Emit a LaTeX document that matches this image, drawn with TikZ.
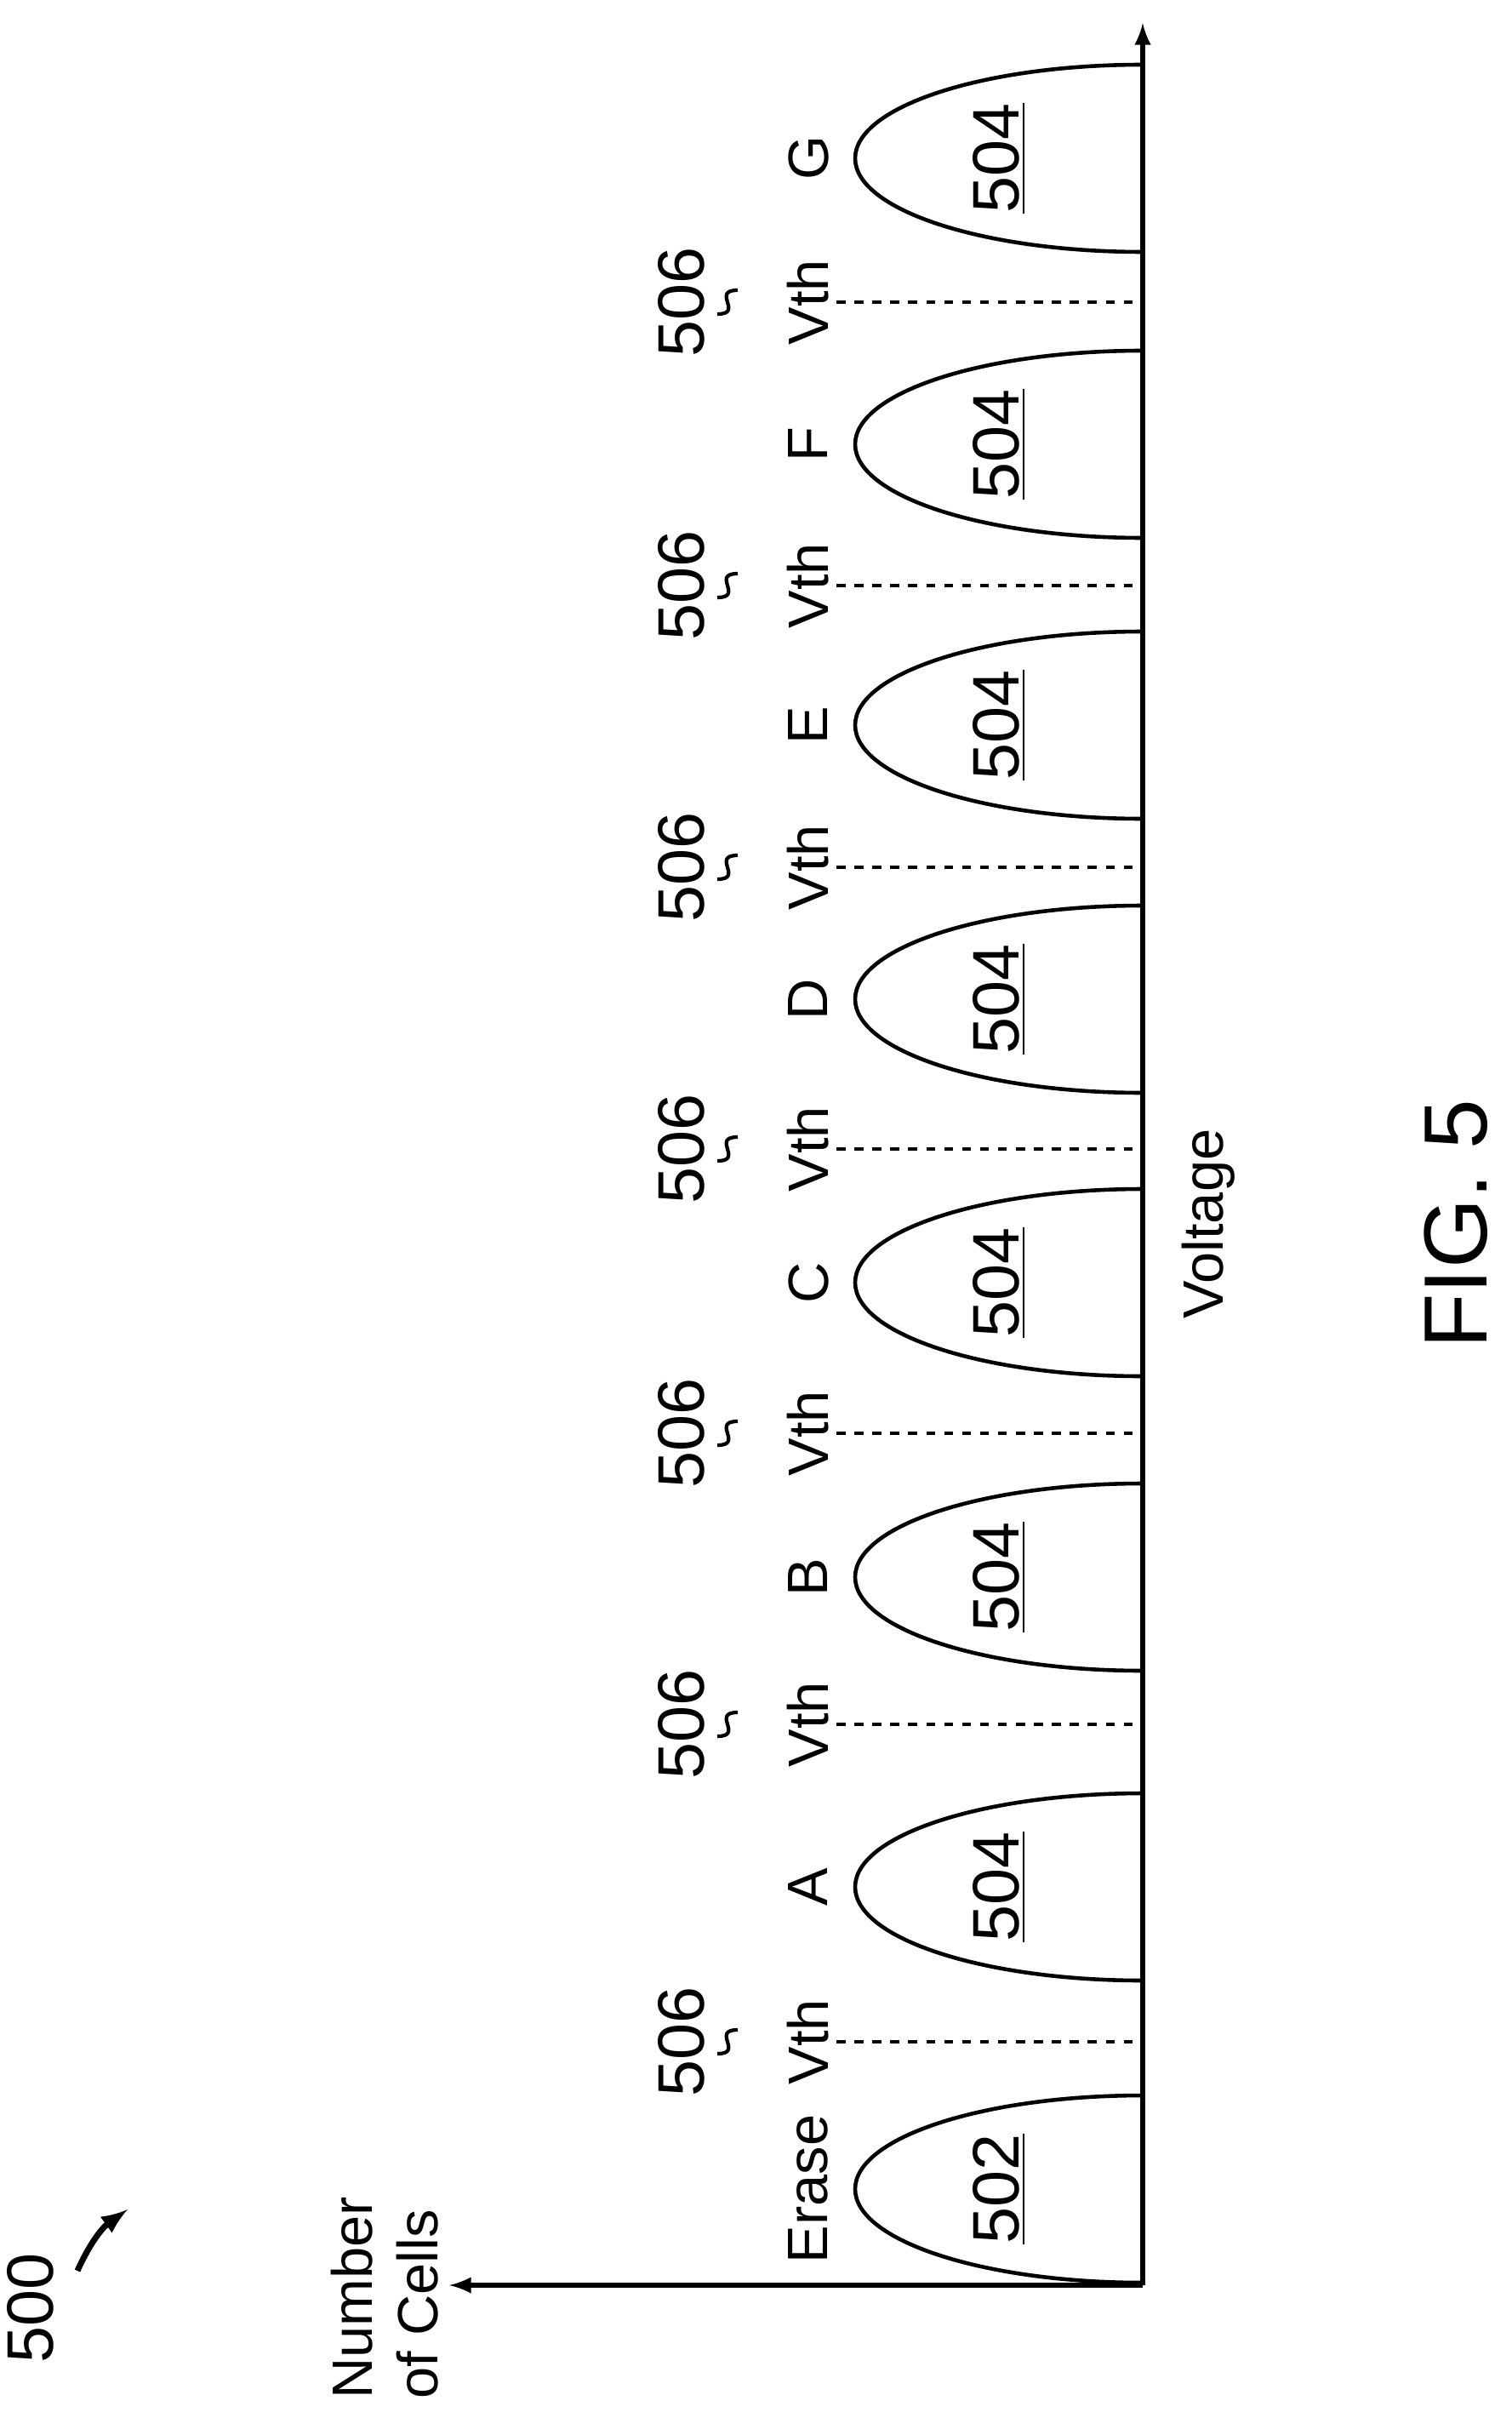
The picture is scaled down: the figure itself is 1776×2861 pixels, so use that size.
\documentclass[tikz,border=0pt]{standalone}
\usepackage{fontspec}
\setmainfont{Liberation Sans}
\usetikzlibrary{arrows,positioning}
\tikzset{>=latex}
\tikzset{
  lbl/.style={rotate=90,font=\fontsize{19}{22}\selectfont},
  bell/.style={line width=1.3pt},
  vthline/.style={dashed,line width=1pt}
}
\begin{document}
\begin{tikzpicture}[x=0.01cm,y=-0.01cm]
    \useasboundingbox (0,0) rectangle (1776,2861);
    \node at (1343,2685) (orig) {};
    \coordinate (yend) at (528,2685);
    \coordinate (xend) at (1343,27);
    \draw [->,line width=1.5pt] (1343,2685) to (yend);
    \draw [->,line width=1.5pt] (1343,2685) to (xend);
    \node at (452,2700) [lbl,align=left] (ncells) {Number\\of Cells};
    \node at (1420,1438) [lbl] (volt) {Voltage};
    \node at (1711,1438) [rotate=90,font=\fontsize{30}{34}\selectfont] (fig) {FIG. 5};
    \node at (36,2712) [lbl,font=\fontsize{22}{26}\selectfont] (num500) {500};
    \coordinate (a500) at (150,2596);
    \draw [->,line width=2pt] (91,2668) to[bend left=15] (a500);
    % distributions
    \foreach \yc/\st/\ref in {2572/Erase/502,2217/A/504,1853/B/504,1507/C/504,
                              1174/D/504,852/E/504,522/F/504,186/G/504} {
      \draw [bell] (1343,\yc+110) arc (90:270:338 and 110);
      \node at (950,\yc) [lbl] (st\st) {\st};
      \node at (1174,\yc) [lbl,font=\fontsize{22}{26}\selectfont] (ref\st) {\underline{\ref}};
    }
    % read levels
    \foreach \yv [count=\i] in {2399,2026,1684,1350,1019,688,355} {
      \draw [vthline] (983,\yv) to (1343,\yv);
      \node at (950,\yv) [lbl] (vth\i) {Vth};
      \node at (801,\yv) [lbl,font=\fontsize{22}{26}\selectfont] (n\i) {506};
      \draw [line width=1.2pt] (843,\yv+14) .. controls (875,\yv+14) and (835,\yv-14) .. (867,\yv-14);
    }
\end{tikzpicture}
\end{document}
